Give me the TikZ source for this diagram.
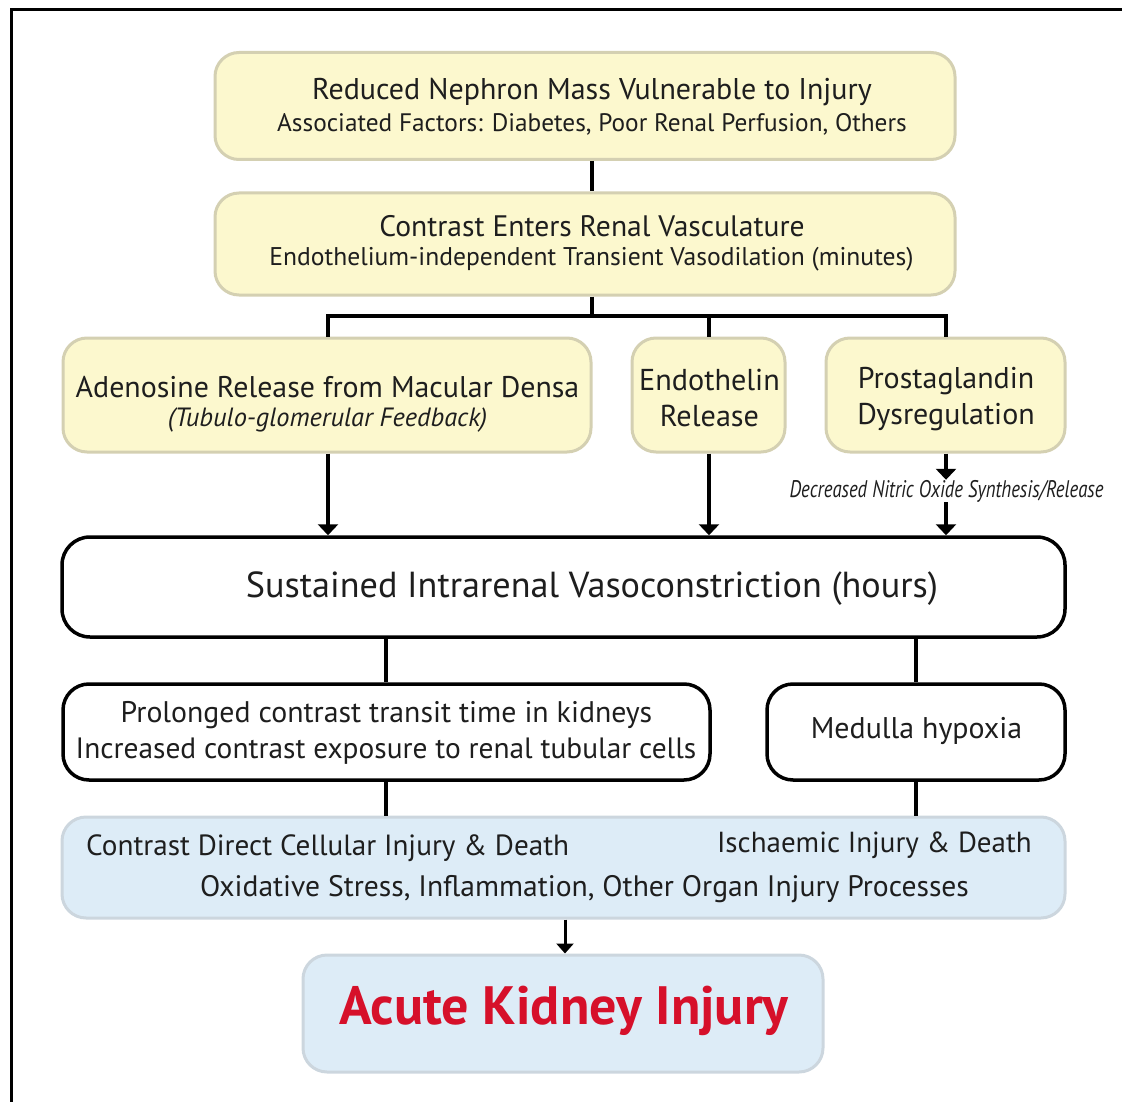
\documentclass[tikz,border=0pt]{standalone}
\usepackage{fontspec}
\setmainfont{PT Sans}
\usetikzlibrary{arrows.meta}
\definecolor{yfill}{RGB}{252,248,206}
\definecolor{yline}{RGB}{212,208,178}
\definecolor{bfill}{RGB}{221,236,247}
\definecolor{bline}{RGB}{204,214,222}
\definecolor{ink}{RGB}{30,30,30}
\definecolor{akired}{RGB}{214,16,42}
\newcommand{\fs}[1]{\fontsize{#1}{#1}\selectfont}
\tikzset{
  ybox/.style={draw=yline, line width=3pt, fill=yfill, rounded corners=24pt, inner sep=0pt},
  wbox/.style={draw=black, line width=3.5pt, fill=white, rounded corners=28pt, inner sep=0pt},
  bbox/.style={draw=bline, line width=3pt, fill=bfill, rounded corners=24pt, inner sep=0pt},
  txt/.style={text=ink, inner sep=0pt, align=center},
  link/.style={line width=4pt, draw=black},
  arr/.style={line width=4pt, draw=black, -{Triangle[width=20pt,length=11pt]}},
  sarr/.style={line width=3pt, draw=black, -{Triangle[width=17pt,length=10pt]}}
}
\begin{document}
\begin{tikzpicture}[x=1pt,y=-1pt]
\useasboundingbox (0,0) rectangle (1122,1102);
% frame (top and left edges)
\draw[line width=3pt] (1122,10) -- (11,10) -- (11,1102);

% boxes
\node[ybox, minimum width=740pt, minimum height=107pt] (nm) at (585,106) {};
\node[ybox, minimum width=740pt, minimum height=102pt] (ce) at (585,244) {};
\node[ybox, minimum width=528pt, minimum height=114pt] (ad) at (327,395) {};
\node[ybox, minimum width=153pt, minimum height=114pt] (en) at (708.5,395) {};
\node[ybox, minimum width=239pt, minimum height=114pt] (pg) at (945.5,395) {};
\node[wbox, minimum width=1003pt, minimum height=100pt] (sv) at (563.5,587) {};
\node[wbox, minimum width=647pt, minimum height=96pt, rounded corners=26pt] (pc) at (386.5,732) {};
\node[wbox, minimum width=298pt, minimum height=96pt, rounded corners=26pt] (mh) at (916,732) {};
\node[bbox, minimum width=1003pt, minimum height=101pt] (ij) at (563.5,867.5) {};
\node[bbox, minimum width=520pt, minimum height=117pt] (ak) at (563,1013.5) {};

% texts
\node[txt] (nm1) at (592,92) {\fs{30}Reduced Nephron Mass Vulnerable to Injury};
\node[txt] (nm2) at (592,124) {\fs{25.3}Associated Factors: Diabetes, Poor Renal Perfusion, Others};
\node[txt] (ce1) at (592,226) {\fs{29.6}Contrast Enters Renal Vasculature};
\node[txt] (ce2) at (591.5,259) {\fs{25.6}Endothelium-independent Transient Vasodilation (minutes)};
\node[txt] (ad1) at (327.5,387) {\fs{29.9}Adenosine Release from Macular Densa};
\node[txt] (ad2) at (327.5,420) {\fs{26.4}\itshape (Tubulo-glomerular Feedback)};
\node[txt] (en1) at (709.5,380) {\fs{30.2}Endothelin};
\node[txt] (en2) at (709.5,416) {\fs{30.2}Release};
\node[txt] (pg1) at (946,381) {\fs{30}Prostaglandin};
\node[txt] (pg2) at (946,417) {\fs{30}Dysregulation};
\node[txt] (no) at (946.5,491) {\scalebox{0.78}[1]{\fs{24}\itshape Decreased Nitric Oxide Synthesis/Release}};
\node[txt] (sv1) at (592,589) {\fs{36.2}Sustained Intrarenal Vasoconstriction (hours)};
\node[txt] (pc1) at (386.5,715) {\fs{29.8}Prolonged contrast transit time in kidneys};
\node[txt] (pc2) at (386,751) {\fs{29.4}Increased contrast exposure to renal tubular cells};
\node[txt] (mh1) at (916.5,731) {\fs{29.9}Medulla hypoxia};
\node[txt, anchor=west] (ij1) at (86,848) {\fs{29.2}Contrast Direct Cellular Injury \& Death};
\node[txt, anchor=east] (ij2) at (1032,845) {\fs{29}Ischaemic Injury \& Death};
\node[txt] (ij3) at (584.5,889) {\fs{29.6}Oxidative Stress, Inflammation, Other Organ Injury Processes};
\node[txt, text=akired] (ak1) at (564,1011) {\fs{54}\bfseries Acute Kidney Injury};

% connectors
\coordinate (split) at (592,316);
\draw[link] (nm.south -| 592,0) -- (ce.north -| 592,0);
\draw[link] (ce.south -| split) -- (split);
\draw[link, line cap=rect] (328,316) -- (946,316);
\draw[link] (328,316) -- (ad.north -| 328,0);
\draw[link] (709,316) -- (en.north -| 709,0);
\draw[link] (946,316) -- (pg.north -| 946,0);
\draw[arr] (ad.south -| 328,0) -- (sv.north -| 328,0);
\draw[arr] (en.south -| 709,0) -- (sv.north -| 709,0);
\draw[arr] (pg.south -| 946,0) -- (no.north -| 946,0);
\draw[arr] (no.south -| 946,0) -- (sv.north -| 946,0);
\draw[link] (sv.south -| 386,0) -- (pc.north -| 386,0);
\draw[link] (sv.south -| 916,0) -- (mh.north -| 916,0);
\draw[link] (pc.south -| 386,0) -- (ij.north -| 386,0);
\draw[link] (mh.south -| 916,0) -- (ij.north -| 916,0);
\draw[sarr] (ij.south -| 565,0) -- (ak.north -| 565,0);
\end{tikzpicture}
\end{document}
